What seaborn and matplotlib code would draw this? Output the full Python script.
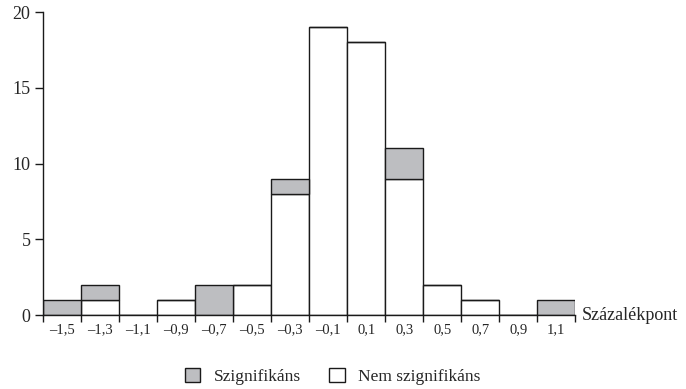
import numpy as np
import pandas as pd
import matplotlib.pyplot as plt
import seaborn as sns
from matplotlib.patches import Patch

# bin centres (percentage points) and counts per group
centers = [-1.5, -1.3, -1.1, -0.9, -0.7, -0.5, -0.3, -0.1, 0.1, 0.3, 0.5, 0.7, 0.9, 1.1]
nem_szig = [0, 1, 0, 1, 0, 2, 8, 19, 18, 9, 2, 1, 0, 0]
szig = [1, 1, 0, 0, 2, 0, 1, 0, 0, 2, 0, 0, 0, 1]
tick_labels = ["–1,5", "–1,3", "–1,1", "–0,9", "–0,7", "–0,5", "–0,3", "–0,1",
               "0,1", "0,3", "0,5", "0,7", "0,9", "1,1"]

df = pd.DataFrame({
    "x": centers * 2,
    "n": szig + nem_szig,
    "csoport": ["Szignifikáns"] * len(centers) + ["Nem szignifikáns"] * len(centers),
})

sns.set_style("white")
plt.rcParams["font.family"] = ["Liberation Serif", "DejaVu Serif"]

fig = plt.figure(figsize=(6.86, 3.89), dpi=100)
ax = fig.add_axes([0.0627, 0.19, 0.776, 0.779])

edges = np.arange(-1.6, 1.21, 0.2)
sns.histplot(data=df, x="x", weights="n", hue="csoport",
             hue_order=["Szignifikáns", "Nem szignifikáns"],
             multiple="stack", binwidth=0.2, binrange=(-1.6, 1.2),
             palette=["#bdbec1", "white"],
             alpha=1, edgecolor="#1a1a1a", linewidth=1, legend=False, ax=ax)

ax.set_xlim(-1.6, 1.2)
ax.set_ylim(0, 20)
ax.set_yticks([0, 5, 10, 15, 20])
ax.set_xticks(centers)
ax.set_xticklabels(tick_labels, fontsize=10.5)
ax.set_xticks(edges, minor=True)
ax.tick_params(axis="x", which="major", length=0, pad=6)
ax.tick_params(axis="x", which="minor", length=5, width=1, direction="out", color="#1a1a1a", bottom=True)
ax.tick_params(axis="y", length=6, width=1, direction="out", color="#1a1a1a", labelsize=13, left=True, pad=3)
ax.set_xlabel("")
ax.set_ylabel("")
for s in ["top", "right"]:
    ax.spines[s].set_visible(False)
for s in ["left", "bottom"]:
    ax.spines[s].set_color("#1a1a1a")
    ax.spines[s].set_linewidth(1)

ax.text(1.012, 0, "Százalékpont", transform=ax.get_yaxis_transform(), fontsize=13,
        va="center", ha="left")

handles = [Patch(facecolor="#bdbec1", edgecolor="#1a1a1a", label="Szignifikáns"),
           Patch(facecolor="white", edgecolor="#1a1a1a", label="Nem szignifikáns")]
fig.legend(handles=handles, loc="lower center", bbox_to_anchor=(0.485, -0.03), ncol=2,
           frameon=False, fontsize=12.5, handlelength=0.9, handleheight=0.9,
           handletextpad=0.8, columnspacing=1.6)

fig.savefig("out.png", dpi=100)
